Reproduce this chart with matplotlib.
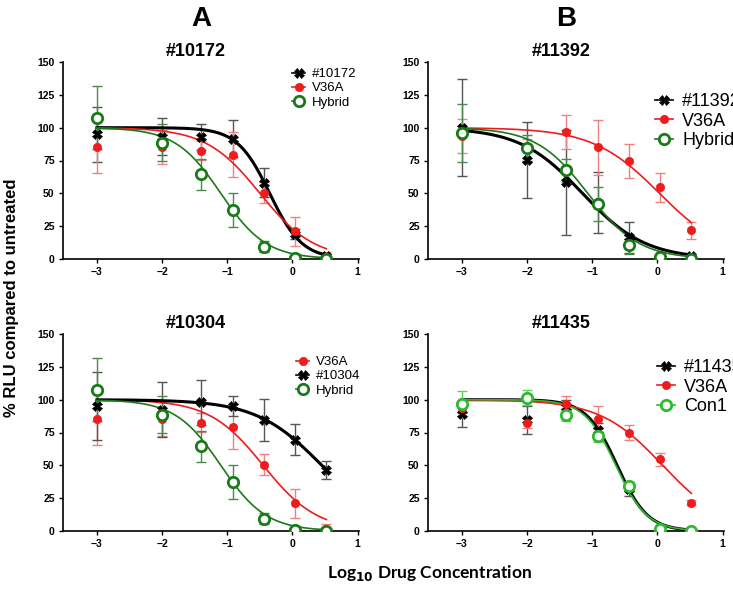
import matplotlib
matplotlib.use('Agg')
import matplotlib.pyplot as plt
import numpy as np
from matplotlib.lines import Line2D

plt.rcParams['font.family'] = ['Liberation Sans', 'DejaVu Sans']

# log10 drug concentration (same for all series)
log_conc = [-3, -2, -1.4, -0.92, -0.43, 0.04, 0.52]

# panel #10172
p10172_mean = [95, 93, 93, 91.5, 58, 19, 2]
p10172_err = [21, 14, 10, 14, 11, 4, 2]
a_v36a_mean = [85.5, 85.5, 82.5, 79.5, 50.5, 21, 1.5]
a_v36a_err = [20, 13, 7, 17, 8, 11, 4]
a_hybrid_mean = [107.5, 88.5, 64.5, 37.5, 9.5, 1, 0]
a_hybrid_err = [24, 14, 12, 13, 4, 1, 1]

# panel #10304
p10304_mean = [95, 92.5, 98, 95, 84.5, 69.5, 46.5]
p10304_err = [26, 21, 17, 7.5, 16, 12, 7]

# panel #11392
p11392_mean = [100, 75.5, 58.5, 43, 16.5, 2, 2]
p11392_err = [37, 29, 40, 23, 12, 2, 1]
b_v36a_mean = [93.5, 83, 96.5, 85, 74.5, 54.5, 22]
b_v36a_err = [13, 8, 13, 21, 13, 11, 6.5]
b_hybrid_mean = [96, 84.5, 67.5, 42, 11, 1.5, 0]
b_hybrid_err = [22, 10, 9, 13, 7, 1, 1]

# panel #11435
p11435_mean = [89, 84.5, 94.5, 77, 32, 1.5, 0]
p11435_err = [9.5, 11, 5, 5, 5, 1, 1]
c_v36a_mean = [93.5, 82.5, 97, 85, 75, 54.5, 21.5]
c_v36a_err = [4, 4, 6, 10, 6, 5, 2]
con1_mean = [96.5, 101.5, 88.5, 72.5, 34.5, 1.5, 0]
con1_err = [10, 5.5, 4.5, 5, 3, 1, 1]

# fitted dose-response curves: (logEC50, hill slope), top=100, bottom=0
fit_10172 = {'#10172': (-0.35, 1.75), 'V36A': (-0.5, 1.05), 'Hybrid': (-1.1, 1.25)}
fit_10304 = {'#10304': (0.45, 0.86), 'V36A': (-0.45, 1.05), 'Hybrid': (-1.1, 1.25)}
fit_11392 = {'#11392': (-1.15, 0.9), 'V36A': (0.03, 0.85), 'Hybrid': (-1.07, 1.1)}
fit_11435 = {'#11435': (-0.62, 1.85), 'V36A': (0.08, 0.9), 'Con1': (-0.64, 1.8)}

BLACK = 'black'
RED = '#ee1c1c'
GREEN = '#1a7a1a'
LGREEN = '#2dbb2d'


def style(color):
    if color == BLACK:
        return dict(marker='X', ms=7, mfc=BLACK, mec=BLACK, mew=0.5)
    if color == RED:
        return dict(marker='o', ms=6, mfc=RED, mec=RED, mew=0.5)
    return dict(marker='o', ms=7.5, mfc='white', mec=color, mew=2)


def curve(x, ec50, hill):
    return 100 / (1 + 10 ** (hill * (x - ec50)))


fig = plt.figure(figsize=(7.33, 5.92), dpi=100)

panels = [
    ([63, 259], '#10172', [('#10172', BLACK, p10172_mean, p10172_err),
                           ('V36A', RED, a_v36a_mean, a_v36a_err),
                           ('Hybrid', GREEN, a_hybrid_mean, a_hybrid_err)],
     fit_10172, (292, 68), 9.5),
    ([428, 259], '#11392', [('#11392', BLACK, p11392_mean, p11392_err),
                            ('V36A', RED, b_v36a_mean, b_v36a_err),
                            ('Hybrid', GREEN, b_hybrid_mean, b_hybrid_err)],
     fit_11392, (655, 93), 13),
    ([63, 531], '#10304', [('V36A', RED, a_v36a_mean, a_v36a_err),
                           ('#10304', BLACK, p10304_mean, p10304_err),
                           ('Hybrid', GREEN, a_hybrid_mean, a_hybrid_err)],
     fit_10304, (296, 356), 9.5),
    ([428, 531], '#11435', [('#11435', BLACK, p11435_mean, p11435_err),
                            ('V36A', RED, c_v36a_mean, c_v36a_err),
                            ('Con1', LGREEN, con1_mean, con1_err)],
     fit_11435, (657, 359), 13),
]

W, H = 733, 592
xs = np.linspace(-3, 0.52, 300)
for (left, bottom), title, series, fits, legpos, legfs in panels:
    ax = fig.add_axes([left / W, 1 - bottom / H, 296 / W, 197 / H])
    handles = []
    for name, color, mean, err in series:
        ecol = {BLACK: '#555555', RED: '#f08080', GREEN: '#4a8a4a', LGREEN: '#66cc66'}[color]
        ax.errorbar(log_conc, mean, yerr=err, fmt='none', ecolor=ecol,
                    elinewidth=1, capsize=3.5, capthick=1, zorder=2)
        ec50, hill = fits[name]
        lw = 2.2 if color == BLACK else 1.2
        ax.plot(xs, curve(xs, ec50, hill), color=color, lw=lw, zorder=3)
        ax.plot(log_conc, mean, linestyle='none', zorder=4, **style(color))
        handles.append(Line2D([], [], color=color, lw=1.2, **style(color)))
    ax.set_xlim(-3.52, 1.02)
    ax.set_ylim(0, 150)
    ax.set_xticks([-3, -2, -1, 0, 1])
    ax.set_yticks([0, 25, 50, 75, 100, 125, 150])
    for s in ['top', 'right']:
        ax.spines[s].set_visible(False)
    for s in ['left', 'bottom']:
        ax.spines[s].set_linewidth(1.2)
    ax.tick_params(length=3, width=1, labelsize=7.5, pad=3)
    for lab in ax.get_xticklabels() + ax.get_yticklabels():
        lab.set_fontweight('bold')
    ax.set_title(title, fontsize=13, fontweight='bold', x=0.45, pad=4)
    ax.legend(handles=handles, labels=[s[0] for s in series],
              loc='upper left', bbox_to_anchor=(legpos[0] / W, 1 - legpos[1] / H),
              bbox_transform=fig.transFigure, frameon=False, fontsize=legfs,
              handlelength=1.0, handletextpad=0.5, labelspacing=0.15,
              borderpad=0, borderaxespad=0)

fig.text(201 / W, 1 - 19 / H, 'A', fontsize=20, fontweight='heavy', ha='center', va='center')
fig.text(566 / W, 1 - 19 / H, 'B', fontsize=20, fontweight='heavy', ha='center', va='center')
fig.text(12 / W, 1 - 298 / H, '% RLU compared to untreated', rotation=90,
         fontsize=12, fontweight='bold', ha='center', va='center')
fig.text(430 / W, 1 - 573 / H, r'Log$_{\mathbf{10}}$ Drug Concentration',
         fontsize=12.5, fontweight='bold', ha='center', va='center',
         family=['Lato', 'DejaVu Sans'])

fig.savefig('out.png', dpi=100)
